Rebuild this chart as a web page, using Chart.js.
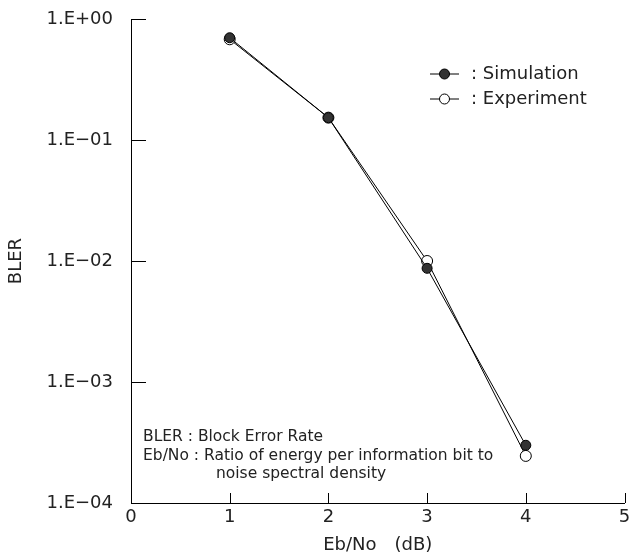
<!DOCTYPE html>
<html>
<head>
<meta charset="utf-8">
<script src="https://cdn.jsdelivr.net/npm/chart.js@4"></script>
<style>
  html, body { margin: 0; padding: 0; background: #fff; }
  #wrap { width: 631px; height: 556px; }
</style>
</head>
<body>
<div id="wrap"><canvas id="chart" width="631" height="556"></canvas></div>
<script>
// data
const ebNo = [1, 2, 3, 4];
const simulation = [0.70, 0.153, 0.0087, 0.00030];
const experiment = [0.68, 0.153, 0.0100, 0.000245];
const yTicks = [1e-4, 1e-3, 1e-2, 1e-1, 1];
const xTicks = [0, 1, 2, 3, 4, 5];
const legendLabels = [': Simulation', ': Experiment'];
const notes = [
  'BLER : Block Error Rate',
  'Eb/No : Ratio of energy per information bit to',
  'noise spectral density'
];

const FONT = '"DejaVu Sans", sans-serif';

function fmtExp(v) {
  const e = Math.round(Math.log10(v));
  const s = e < 0 ? '\u2212' : '+';
  return '1.E' + s + String(Math.abs(e)).padStart(2, '0');
}

// inward ticks, legend and notes
const extras = {
  id: 'extras',
  afterDraw(chart) {
    const ctx = chart.ctx;
    const xs = chart.scales.x, ys = chart.scales.y;
    const area = chart.chartArea;
    ctx.save();
    ctx.strokeStyle = '#000';
    ctx.lineWidth = 1;
    ctx.beginPath();
    yTicks.forEach(v => {
      const y = Math.round(ys.getPixelForValue(v)) + 0.5;
      ctx.moveTo(area.left, y);
      ctx.lineTo(area.left + 15, y);
    });
    xTicks.forEach(v => {
      if (v === 0) return;
      const x = Math.round(xs.getPixelForValue(v)) + 0.5;
      ctx.moveTo(x, area.bottom);
      ctx.lineTo(x, area.bottom - 10);
    });
    ctx.stroke();

    // legend
    const lx = 430, ly = [74, 99];
    ctx.font = '18px ' + FONT;
    ctx.textBaseline = 'middle';
    ly.forEach((y, i) => {
      ctx.beginPath();
      ctx.moveTo(lx, y);
      ctx.lineTo(lx + 29, y);
      ctx.stroke();
      ctx.beginPath();
      ctx.arc(lx + 14.5, y, 5, 0, Math.PI * 2);
      ctx.fillStyle = i === 0 ? '#333' : '#fff';
      ctx.fill();
      ctx.stroke();
      ctx.fillStyle = '#222';
      ctx.fillText(legendLabels[i], lx + 41, y);
    });

    // notes
    ctx.font = '15.5px ' + FONT;
    ctx.fillText(notes[0], 143, 437);
    ctx.fillText(notes[1], 143, 456);
    ctx.fillText(notes[2], 216, 474);
    ctx.restore();
  }
};

new Chart(document.getElementById('chart'), {
  type: 'line',
  data: {
    datasets: [
      {
        label: 'Simulation',
        data: ebNo.map((x, i) => ({ x: x, y: simulation[i] })),
        borderColor: '#000',
        borderWidth: 1,
        pointRadius: 5,
        pointBackgroundColor: '#333',
        pointBorderColor: '#000',
        pointBorderWidth: 1,
        tension: 0
      },
      {
        label: 'Experiment',
        data: ebNo.map((x, i) => ({ x: x, y: experiment[i] })),
        borderColor: '#000',
        borderWidth: 1,
        pointRadius: 5.5,
        pointBackgroundColor: '#fff',
        pointBorderColor: '#000',
        pointBorderWidth: 1,
        tension: 0
      }
    ]
  },
  options: {
    responsive: false,
    animation: false,
    layout: { padding: { left: 0, top: 19, right: 6, bottom: 0 } },
    plugins: { legend: { display: false }, tooltip: { enabled: false } },
    scales: {
      x: {
        type: 'linear',
        min: 0,
        max: 5,
        afterBuildTicks: s => { s.ticks = xTicks.map(v => ({ value: v })); },
        afterFit: s => { s.height = 53; s.paddingLeft = 0; s.paddingRight = 0; },
        grid: { display: false, drawTicks: false },
        border: { display: true, color: '#000', width: 1 },
        ticks: { color: '#222', font: { family: FONT, size: 18 }, padding: 4 },
        title: {
          display: true,
          text: 'Eb/No\u3000(dB)',
          color: '#222',
          font: { family: FONT, size: 18 },
          padding: { top: 0, bottom: 0 }
        }
      },
      y: {
        type: 'logarithmic',
        min: 1e-4,
        max: 1,
        afterBuildTicks: s => { s.ticks = yTicks.map(v => ({ value: v })); },
        afterFit: s => { s.width = 131; s.paddingTop = 0; s.paddingBottom = 0; },
        grid: { display: false, drawTicks: false },
        border: { display: true, color: '#000', width: 1 },
        ticks: {
          color: '#222',
          font: { family: FONT, size: 18 },
          padding: 18,
          callback: v => fmtExp(v)
        },
        title: {
          display: true,
          text: 'BLER',
          color: '#222',
          font: { family: FONT, size: 18 },
          padding: { top: 6, bottom: 0 }
        }
      }
    }
  },
  plugins: [extras]
});
</script>
</body>
</html>
